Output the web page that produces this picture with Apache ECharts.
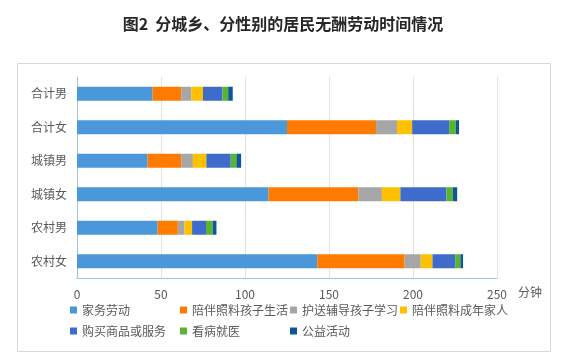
<!DOCTYPE html>
<html>
<head>
<meta charset="utf-8">
<script src="https://cdn.jsdelivr.net/npm/echarts@6/dist/echarts.min.js"></script>
<style>
html,body{margin:0;padding:0;background:#fff;}
#main{width:566px;height:364px;}
</style>
</head>
<body>
<div id="main"></div>
<script>
const categories = ['合计男', '合计女', '城镇男', '城镇女', '农村男', '农村女'];
const seriesNames = ['家务劳动', '陪伴照料孩子生活', '护送辅导孩子学习', '陪伴照料成年家人', '购买商品或服务', '看病就医', '公益活动'];
const housework = [45, 125, 42, 114, 48, 143];
const childCare = [17, 53, 20, 53.5, 12, 52];
const childStudy = [6, 12.5, 7, 14, 4, 9.6];
const adultCare = [7, 9, 8, 11, 4.5, 7];
const shopping = [11.6, 22, 14.5, 27.4, 8.3, 13.5];
const medical = [3.4, 4, 3.4, 3.8, 4, 3.1];
const charity = [2.7, 1.9, 2.8, 2.6, 2.2, 1.6];
const xTicks = [0, 50, 100, 150, 200, 250];

const allData = [housework, childCare, childStudy, adultCare, shopping, medical, charity];
const colors = ['#4A98DA', '#FF7B00', '#A6A6A6', '#FFC000', '#3F6CCB', '#5AB432', '#0D5697'];
const font = '"Noto Sans CJK SC", "Microsoft YaHei", sans-serif';

const legendPos = [
  [70, 304], [180, 304], [290, 304], [400, 304],
  [70, 325], [180, 325], [290, 325]
];

const chart = echarts.init(document.getElementById('main'));
chart.setOption({
  animation: false,
  textStyle: { fontFamily: font },
  color: colors,
  title: {
    text: '图2  分城乡、分性别的居民无酬劳动时间情况',
    left: 'center',
    top: 11,
    textStyle: { fontSize: 16, fontWeight: 'bold', color: '#262626', fontFamily: font }
  },
  graphic: [
    {
      type: 'rect',
      shape: { x: 17.5, y: 63.5, width: 533, height: 288 },
      style: { fill: 'none', stroke: '#D9D9D9', lineWidth: 1 },
      silent: true
    },
    {
      type: 'text',
      left: 518,
      top: 286,
      style: { text: '分钟', fill: '#595959', font: '12px ' + font }
    }
  ],
  legend: seriesNames.map((n, i) => ({
    data: [n],
    left: legendPos[i][0],
    top: legendPos[i][1],
    icon: 'rect',
    itemWidth: 7,
    itemHeight: 7,
    itemGap: 0,
    padding: 0,
    textStyle: { color: '#595959', fontSize: 12, fontFamily: font }
  })),
  grid: { left: 77, right: 69, top: 77, bottom: 86, containLabel: false },
  xAxis: {
    type: 'value',
    min: xTicks[0],
    max: xTicks[xTicks.length - 1],
    interval: xTicks[1] - xTicks[0],
    axisLine: { show: true, lineStyle: { color: '#9DC3E6' } },
    axisTick: { show: false },
    axisLabel: { color: '#595959', fontSize: 12, margin: 10 },
    splitLine: { show: true, lineStyle: { color: '#E3E3E3' } }
  },
  yAxis: {
    type: 'category',
    data: categories,
    inverse: true,
    axisLine: { show: true, lineStyle: { color: '#9DC3E6' } },
    axisTick: { show: false },
    axisLabel: { color: '#595959', fontSize: 12, margin: 10 },
    splitLine: { show: false }
  },
  series: seriesNames.map((n, i) => ({
    name: n,
    type: 'bar',
    stack: 'total',
    barWidth: 14,
    data: allData[i],
    itemStyle: { color: colors[i] }
  }))
});
</script>
</body>
</html>
